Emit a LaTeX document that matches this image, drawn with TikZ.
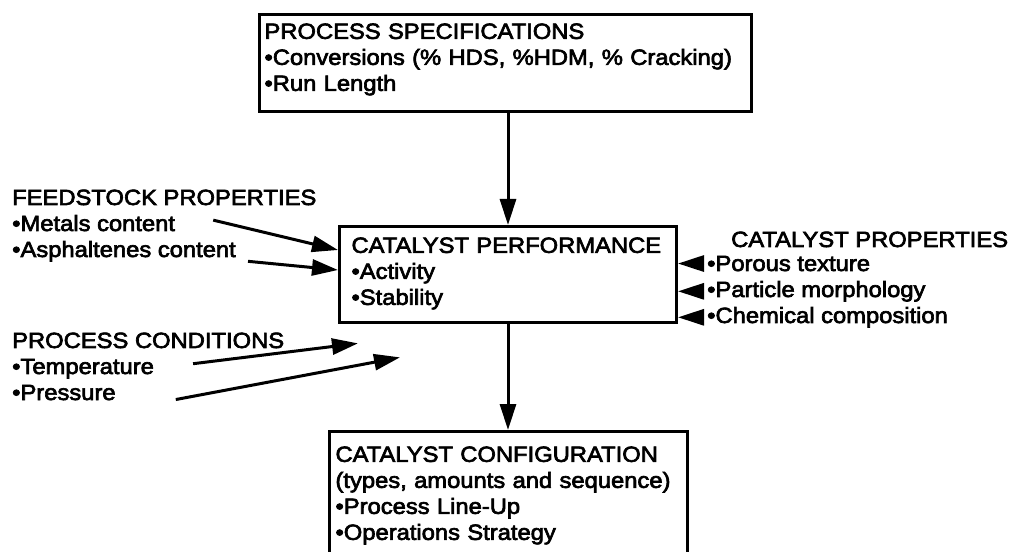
\documentclass[tikz,border=0pt]{standalone}
\usepackage{fontspec}
\setmainfont{Liberation Sans}[FakeStretch=1.08, FakeBold=3]
\usetikzlibrary{arrows.meta}
\newcommand{\lowstrut}[1]{\rule[-#1]{0pt}{#1}}

\tikzset{
  every node/.style={font=\fontsize{22bp}{26bp}\selectfont, inner sep=0pt},
  box/.style={draw, line width=3bp, anchor=north west, align=left},
  lbl/.style={anchor=base west},
  rlbl/.style={anchor=base west, inner xsep=3bp},
  flow/.style={line width=3bp, -{Triangle[length=26bp,width=16bp]}},
}

\begin{document}
\begin{tikzpicture}[x=1bp,y=-1bp]
\useasboundingbox (0,0) rectangle (1019,552);

% the three boxes down the middle
\node[box, text width=482bp, inner xsep=5bp, inner ysep=9bp] (spec) at (258,13)
  {PROCESS SPECIFICATIONS\\
   •Conversions (\% HDS, \%HDM, \% Cracking)\\
   •Run Length\lowstrut{12bp}};
\node[box, text width=313bp, inner xsep=12bp, inner ysep=11bp] (perf) at (338,225)
  {CATALYST PERFORMANCE\\
   •Activity\\
   •Stability\lowstrut{7bp}};
\node[box, text width=346bp, inner xsep=6bp, inner ysep=15bp] (config) at (328,430)
  {CATALYST CONFIGURATION\\
   (types, amounts and sequence)\\
   •Process Line-Up\\
   •Operations Strategy\lowstrut{30bp}};

% inputs on the left
\node[lbl] (feed) at (12,205) {FEEDSTOCK PROPERTIES};
\node[lbl] (metals) at (12,231) {•Metals content};
\node[lbl] (asph) at (12,257) {•Asphaltenes content};
\node[lbl] (cond) at (12,348) {PROCESS CONDITIONS};
\node[lbl] (temp) at (12,374) {•Temperature};
\node[lbl] (press) at (12,400) {•Pressure};

% inputs on the right
\node[lbl] (catprop) at (731,247) {CATALYST PROPERTIES};
\node[rlbl] (porous) at (704,271) {•Porous texture};
\node[rlbl] (particle) at (704,297) {•Particle morphology};
\node[rlbl] (chem) at (704,323) {•Chemical composition};

% loose arrow ends
\coordinate (metals tail) at ([shift={(38,-3)}]metals.east);
\coordinate (asph tail) at ([shift={(12,10)}]asph.east);
\coordinate (temp tail) at ([shift={(39,-5)}]temp.east);
\coordinate (press tail) at ([shift={(60,7)}]press.east);
\coordinate (temp tip) at ([shift={(20,19)}]perf.south west);
\coordinate (press tip) at ([shift={(62,33)}]perf.south west);

\draw[flow] (spec.south -| perf.north) -- (perf.north);
\draw[flow] (perf.south) -- (perf.south |- config.north);

\draw[flow] (metals tail) -- ([shift={(0,25)}]perf.north west);
\draw[flow] (asph tail) -- ([shift={(0,45)}]perf.north west);
\draw[flow] (temp tail) -- (temp tip);
\draw[flow] (press tail) -- (press tip);

\draw[flow] (porous.west) -- (porous.west -| perf.east);
\draw[flow] (particle.west) -- (particle.west -| perf.east);
\draw[flow] (chem.west) -- (chem.west -| perf.east);
\end{tikzpicture}
\end{document}
